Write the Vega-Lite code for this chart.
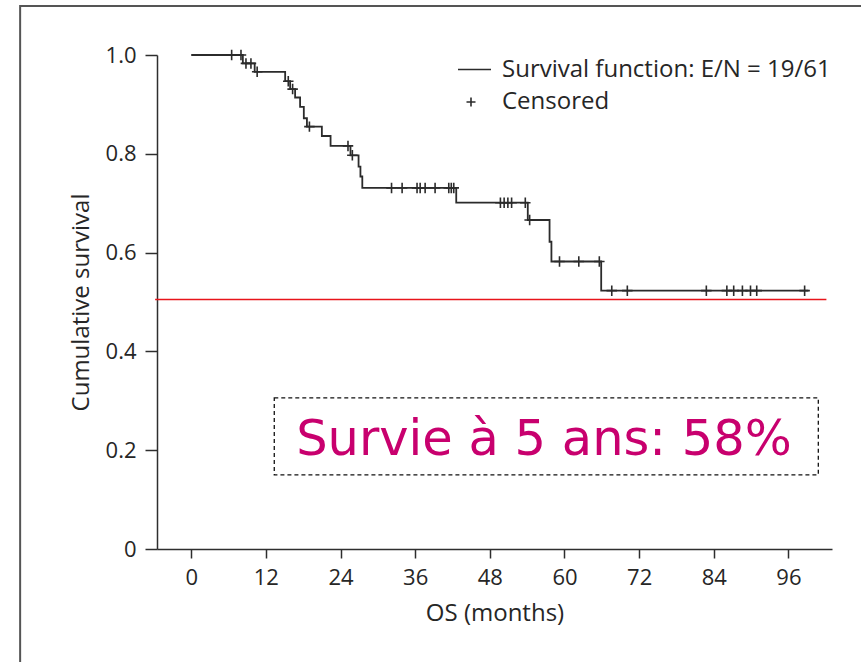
{
  "$schema": "https://vega.github.io/schema/vega-lite/v6.json",
  "width": 675,
  "height": 494,
  "autosize": {"type": "none"},
  "padding": {"left": 157, "top": 55, "right": 29, "bottom": 113},
  "background": "white",
  "config": {
    "view": {"stroke": null},
    "font": "Open Sans",
    "axis": {
      "domainColor": "#2e2e2e", "domainWidth": 1.5,
      "tickColor": "#2e2e2e", "tickWidth": 1.5,
      "labelFont": "Open Sans", "labelFontSize": 22, "labelColor": "#262626",
      "titleFont": "Open Sans", "titleFontSize": 24, "titleFontWeight": "normal", "titleColor": "#262626",
      "grid": false
    },
    "axisX": {"tickSize": 9, "labelPadding": 9, "titlePadding": 13},
    "axisY": {"tickSize": 12, "labelPadding": 9, "titlePadding": 12},
    "legend": {"labelFont": "Open Sans", "labelFontSize": 24, "labelColor": "#262626", "padding": 0, "labelLimit": 0}
  },
  "datasets": {
    "km": [
      {"t": 0, "s": 1.0},
      {"t": 8.3, "s": 0.983},
      {"t": 10.2, "s": 0.966},
      {"t": 15.1, "s": 0.947},
      {"t": 15.9, "s": 0.931},
      {"t": 16.7, "s": 0.914},
      {"t": 17.5, "s": 0.895},
      {"t": 18.1, "s": 0.872},
      {"t": 18.6, "s": 0.855},
      {"t": 21.0, "s": 0.836},
      {"t": 22.4, "s": 0.816},
      {"t": 25.6, "s": 0.797},
      {"t": 26.9, "s": 0.774},
      {"t": 27.2, "s": 0.754},
      {"t": 27.5, "s": 0.731},
      {"t": 42.6, "s": 0.701},
      {"t": 54.1, "s": 0.666},
      {"t": 57.6, "s": 0.622},
      {"t": 57.9, "s": 0.582},
      {"t": 65.9, "s": 0.523},
      {"t": 99.2, "s": 0.523}
    ],
    "censored": [
      {"t": 6.5, "s": 1.0}, {"t": 8.0, "s": 1.0},
      {"t": 8.8, "s": 0.983}, {"t": 9.6, "s": 0.983}, {"t": 10.6, "s": 0.966},
      {"t": 15.6, "s": 0.947}, {"t": 16.3, "s": 0.931}, {"t": 19.0, "s": 0.855},
      {"t": 25.2, "s": 0.816}, {"t": 25.9, "s": 0.797},
      {"t": 32.2, "s": 0.731}, {"t": 33.9, "s": 0.731}, {"t": 36.3, "s": 0.731},
      {"t": 36.8, "s": 0.731}, {"t": 37.6, "s": 0.731}, {"t": 39.2, "s": 0.731},
      {"t": 41.4, "s": 0.731}, {"t": 41.8, "s": 0.731}, {"t": 42.2, "s": 0.731},
      {"t": 49.7, "s": 0.701}, {"t": 50.3, "s": 0.701}, {"t": 50.9, "s": 0.701},
      {"t": 51.5, "s": 0.701}, {"t": 53.7, "s": 0.701},
      {"t": 54.4, "s": 0.666},
      {"t": 59.2, "s": 0.582}, {"t": 62.3, "s": 0.582}, {"t": 65.6, "s": 0.582},
      {"t": 67.6, "s": 0.523}, {"t": 70.1, "s": 0.523}, {"t": 82.8, "s": 0.523},
      {"t": 86.1, "s": 0.523}, {"t": 87.2, "s": 0.523}, {"t": 88.6, "s": 0.523},
      {"t": 89.9, "s": 0.523}, {"t": 90.9, "s": 0.523}, {"t": 98.6, "s": 0.523}
    ],
    "note": [{"label": "Survie à 5 ans: 58%"}]
  },
  "layer": [
    {
      "data": {"name": "km"},
      "mark": {"type": "line", "interpolate": "step-after", "strokeWidth": 1.8},
      "encoding": {
        "x": {
          "field": "t", "type": "quantitative",
          "scale": {"domain": [-5.5, 103], "nice": false, "zero": false},
          "axis": {"values": [0, 12, 24, 36, 48, 60, 72, 84, 96], "title": "OS (months)"}
        },
        "y": {
          "field": "s", "type": "quantitative",
          "scale": {"domain": [0, 1], "nice": false},
          "axis": {
            "values": [0, 0.2, 0.4, 0.6, 0.8, 1],
            "title": "Cumulative survival",
            "labelExpr": "datum.value == 0 ? '0' : format(datum.value, '.1f')"
          }
        },
        "color": {
          "datum": "Survival function: E/N = 19/61",
          "scale": {"range": ["#2b2b2b"]},
          "legend": {
            "title": null, "orient": "none", "legendX": 300, "legendY": -3,
            "symbolType": "stroke", "symbolSize": 1089, "symbolStrokeWidth": 1.5,
            "symbolStrokeColor": "#2b2b2b", "labelOffset": 10
          }
        }
      }
    },
    {
      "data": {"name": "censored"},
      "mark": {"type": "point", "filled": false, "color": "#2b2b2b", "strokeWidth": 1.6, "size": 110, "opacity": 1},
      "encoding": {
        "x": {"field": "t", "type": "quantitative", "scale": {"domain": [-5.5, 103], "nice": false, "zero": false}},
        "y": {"field": "s", "type": "quantitative", "scale": {"domain": [0, 1], "nice": false}},
        "shape": {
          "datum": "Censored",
          "scale": {"range": ["M-1,0H1M0,-1V1"]},
          "legend": {
            "title": null, "orient": "none", "legendX": 302, "legendY": 35,
            "symbolSize": 81, "symbolStrokeWidth": 1.6, "symbolStrokeColor": "#2b2b2b",
            "symbolFillColor": "transparent", "labelOffset": 19
          }
        }
      }
    },
    {
      "data": {"name": "note"},
      "mark": {"type": "rule", "color": "#e8141b", "strokeWidth": 1.5},
      "encoding": {
        "x": {"datum": -5.8, "type": "quantitative", "scale": {"domain": [-5.5, 103], "nice": false, "zero": false}},
        "x2": {"datum": 102.1},
        "y": {"datum": 0.505, "type": "quantitative", "scale": {"domain": [0, 1], "nice": false}}
      }
    },
    {
      "data": {"name": "note"},
      "mark": {"type": "rect", "filled": false, "color": "#111111", "strokeWidth": 1.3, "strokeDash": [4, 3]},
      "encoding": {
        "x": {"datum": 13.35, "type": "quantitative", "scale": {"domain": [-5.5, 103], "nice": false, "zero": false}},
        "x2": {"datum": 100.8},
        "y": {"datum": 0.306, "type": "quantitative", "scale": {"domain": [0, 1], "nice": false}},
        "y2": {"datum": 0.15}
      }
    },
    {
      "data": {"name": "note"},
      "mark": {"type": "text", "font": "DejaVu Sans", "fontSize": 49.5, "color": "#C8006E", "align": "center", "baseline": "alphabetic"},
      "encoding": {
        "x": {"datum": 56.7, "type": "quantitative", "scale": {"domain": [-5.5, 103], "nice": false, "zero": false}},
        "y": {"datum": 0.19, "type": "quantitative", "scale": {"domain": [0, 1], "nice": false}},
        "text": {"field": "label"}
      }
    },
    {
      "data": {"name": "note"},
      "mark": {"type": "rect", "filled": false, "color": "#555555", "strokeWidth": 2},
      "encoding": {
        "x": {"datum": -27.5, "type": "quantitative", "scale": {"domain": [-5.5, 103], "nice": false, "zero": false}},
        "x2": {"datum": 115},
        "y": {"datum": 1.099, "type": "quantitative", "scale": {"domain": [0, 1], "nice": false}},
        "y2": {"datum": -0.3}
      }
    }
  ]
}
